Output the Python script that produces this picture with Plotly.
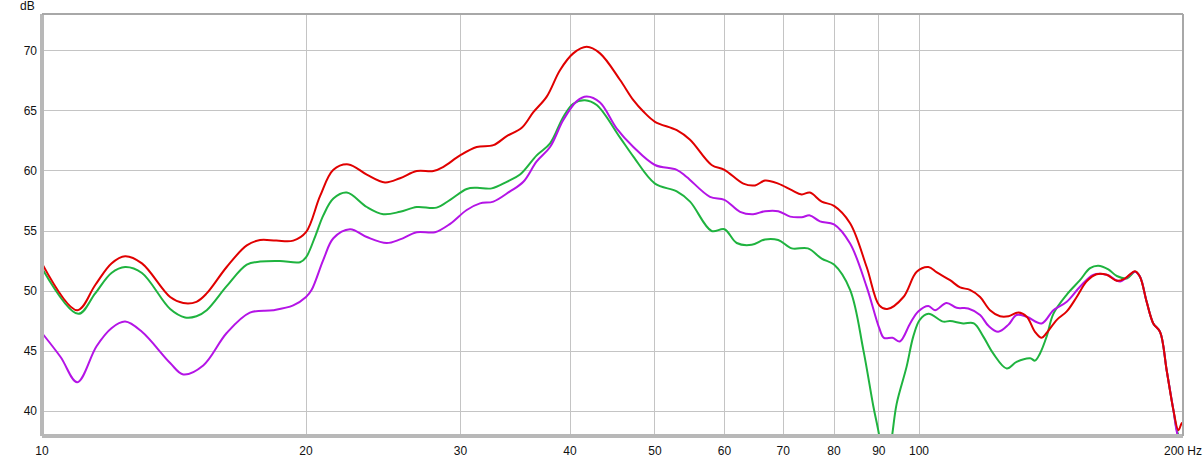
import math
import plotly.graph_objects as go

# ---- data (frequency in Hz, level in dB) ----
red_f = [10, 10.97, 11.5, 12.0, 12.44, 13.0, 14.0, 14.49, 15.0, 15.41, 16.24, 17.12, 17.73,
         18.5, 19.34, 20.0, 20.75, 21.49, 22.36, 23.46, 24.61, 25.6, 26.75, 27.94, 28.69, 29.97, 31.31,
         32.71, 33.88, 35.24, 36.33, 37.63, 38.96, 40.34, 41.79, 43.28, 45.6, 47.24, 48.5, 50, 52.94,
         54.82, 58.01, 60, 63.06, 65.02, 66.75, 69.1, 71.6, 73.48, 75.1, 77.45, 80, 83.45, 87.16, 90.1,
         92.0, 96.0, 99.4, 102.5, 104.8, 108.5, 111.4, 114.3, 117.4, 120.5, 123.7, 126.5, 129.8, 132.7,
         135.6, 138, 139.8, 143.6, 147.4, 151.3, 155.3, 159.4, 163.7, 168.1, 171.8, 176.3, 178.6, 181.8,
         185, 188.3, 191.6, 195, 197.6, 199.4, 200]
red_db = [52.3, 48.4, 50.5, 52.3, 52.9, 52.3, 49.5, 49.0, 49.1, 49.8, 52.0, 53.8, 54.25,
          54.2, 54.2, 54.9, 57.9, 60.1, 60.55, 59.7, 59.05, 59.4, 60.0, 60.0, 60.35, 61.3, 62.0,
          62.15, 62.9, 63.6, 64.9, 66.2, 68.4, 69.8, 70.35, 69.8, 67.6, 65.9, 64.95, 64.1, 63.4,
          62.6, 60.5, 60.1, 58.95, 58.8, 59.2, 58.95, 58.4, 58.05, 58.2, 57.45, 57.1, 55.65, 52.0, 48.8,
          48.5, 49.5, 51.6, 52.0, 51.55, 50.9, 50.3, 50.1, 49.5, 48.4, 47.9, 47.9, 48.2, 47.85,
          46.6, 46.1, 46.5, 47.6, 48.3, 49.5, 50.8, 51.4, 51.35, 50.85, 51.05, 51.65, 51.2, 49.1,
          47.3, 46.6, 43.4, 40.1, 38.4, 39.0, 38.8]

green_f = [10, 11.0, 11.5, 12.0, 12.44, 13.0, 14.0, 14.56, 15.0, 15.41, 16.24, 17.12, 17.73,
           18.68, 19.69, 20.0, 20.5, 20.93, 21.49, 22.26, 23.46, 24.5, 25.6, 26.75, 28.18, 29.2, 30.5,
           31.31, 32.57, 33.88, 35.08, 36.65, 37.96, 39.3, 40.34, 41.6, 42.91, 45.6, 47.24, 50, 52.94,
           54.82, 58.01, 60, 61.97, 64.45, 66.75, 69.1, 71.6, 74.7, 77.45, 80, 83.45, 86.4, 88.7, 90.1,
           91.5, 93.2, 94.3, 96.8, 98.5, 100.2, 102.5, 106.6, 108.5, 112.3, 115.5, 118.4, 121.5, 125.9,
           129.2, 133.9, 135.6, 137.4, 139.8, 142.3, 147.4, 152.6, 156.7, 160.1, 164.4, 168.1, 172.6,
           176.3, 178.6, 181.8, 185, 188.3, 191.6, 195, 197.6, 200]
green_db = [51.9, 48.1, 49.8, 51.5, 52.0, 51.5, 48.5, 47.8, 47.9, 48.4, 50.4, 52.2, 52.45,
            52.5, 52.4, 52.8, 54.6, 56.3, 57.7, 58.2, 57.0, 56.4, 56.6, 57.0, 56.95, 57.6, 58.5,
            58.6, 58.55, 59.1, 59.7, 61.3, 62.3, 64.5, 65.6, 65.9, 65.5, 62.8, 61.2, 58.95, 58.3,
            57.45, 55.0, 55.15, 54.0, 53.85, 54.3, 54.25, 53.55, 53.55, 52.7, 52.2, 50.1, 45.1, 40.4, 37.9,
            34.0, 38.0, 40.6, 43.7, 46.2, 47.6, 48.1, 47.45, 47.5, 47.3, 47.3, 46.2, 44.8, 43.55,
            44.1, 44.4, 44.2, 44.8, 46.2, 48.1, 49.7, 50.9, 51.9, 52.1, 51.8, 51.25, 51.05,
            51.6, 51.2, 49.1, 47.3, 46.6, 43.4, 40.1, 38.0, 37.5]

purple_f = [10, 10.5, 10.97, 11.54, 12.0, 12.44, 13.0, 14.0, 14.49, 15.27, 16.24, 17.26, 18.35,
            19.34, 20.0, 20.3, 20.93, 21.49, 22.45, 23.46, 24.72, 25.6, 26.75, 28.06, 29.2, 30.5, 31.58,
            32.71, 34.17, 35.39, 36.65, 37.96, 39.3, 40.7, 41.79, 43.28, 45.2, 47.24, 50, 52.94, 54.34,
            57.76, 60, 62.51, 64.7, 66.75, 69.1, 71.3, 73.48, 75.1, 77.1, 80, 83.45, 87.16, 90.1, 91.2,
            93.3, 95.1, 97.7, 99.8, 102.5, 104.3, 107.5, 110.4, 113.8, 117.4, 120, 123.1, 126.5, 129.2,
            132.7, 138, 142.3, 147.4, 152.6, 158, 163.7, 169.6, 176.3, 178.6, 181.8, 185, 188.3, 191.6,
            195, 197.6, 200]
purple_db = [46.5, 44.5, 42.4, 45.4, 46.9, 47.45, 46.6, 44.0, 43.05, 43.8, 46.5, 48.2, 48.4,
             48.8, 49.5, 50.1, 52.6, 54.4, 55.15, 54.5, 54.0, 54.3, 54.9, 54.9, 55.6, 56.75, 57.3,
             57.45, 58.3, 59.1, 60.8, 62.0, 64.25, 65.8, 66.2, 65.7, 63.55, 62.0, 60.5, 60.1, 59.5,
             57.85, 57.6, 56.6, 56.4, 56.65, 56.65, 56.2, 56.15, 56.3, 55.8, 55.55, 53.95, 50.35, 46.9, 46.1,
             46.1, 45.8, 47.3, 48.3, 48.75, 48.4, 49.0, 48.6, 48.55, 48.0, 47.1, 46.6, 47.2, 48.0,
             47.85, 47.3, 48.4, 49.1, 50.35, 51.35, 51.35, 50.8, 51.6, 51.2, 49.1, 47.3, 46.6, 43.4,
             40.1, 37.8, 37.3]

x_ticks = [10, 20, 30, 40, 50, 60, 70, 80, 90, 100, 200]
x_ticktext = ["10", "20", "30", "40", "50", "60", "70", "80", "90", "100", "200 Hz"]
y_ticks = [40, 45, 50, 55, 60, 65, 70]

FONT = "Liberation Sans, Arial, sans-serif"

fig = go.Figure()
for f, db, col in [(green_f, green_db, "#1fb33f"),
                   (purple_f, purple_db, "#b414e6"),
                   (red_f, red_db, "#e00000")]:
    fig.add_trace(go.Scatter(x=f, y=db, mode="lines",
                             line=dict(color=col, width=2, shape="spline", smoothing=1.0),
                             hoverinfo="skip", showlegend=False))

fig.update_layout(
    width=1204, height=459,
    margin=dict(l=42, r=21, t=14, b=23, autoexpand=False),
    paper_bgcolor="white", plot_bgcolor="white",
    font=dict(family=FONT, size=12, color="#111"),
    showlegend=False,
)
fig.update_xaxes(type="log", range=[1, math.log10(200)], automargin=False,
                 tickvals=x_ticks, ticktext=x_ticktext, tickangle=0,
                 showgrid=True, gridcolor="#c4c4c4", gridwidth=1,
                 zeroline=False, showline=False, ticks="", ticklabelstandoff=6)
fig.update_yaxes(range=[37.92, 73.08], tickvals=y_ticks, automargin=False,
                 showgrid=True, gridcolor="#c4c4c4", gridwidth=1,
                 zeroline=False, showline=False, ticks="", ticklabelstandoff=4)

# frame with a soft shadow on left and bottom
frame = [
    dict(x0=0, x1=0, y0=0, y1=1, width=4, color="#b8b8b8"),
    dict(x0=0, x1=1, y0=0, y1=0, width=4, color="#b8b8b8"),
    dict(x0=0, x1=1, y0=1, y1=1, width=2, color="#a8a8a8"),
    dict(x0=1, x1=1, y0=0, y1=1, width=2, color="#a8a8a8"),
]
for s in frame:
    fig.add_shape(type="line", xref="paper", yref="paper",
                  x0=s["x0"], x1=s["x1"], y0=s["y0"], y1=s["y1"],
                  line=dict(color=s["color"], width=s["width"]), layer="above")

fig.add_annotation(text="dB", xref="paper", yref="paper", x=-0.0044, y=1.019,
                   xanchor="right", yanchor="middle", showarrow=False,
                   font=dict(family=FONT, size=12, color="#111"))

fig.write_html("out.html", config={"displayModeBar": False},
               post_script="document.body.style.margin='0px';document.body.style.overflow='hidden';")
